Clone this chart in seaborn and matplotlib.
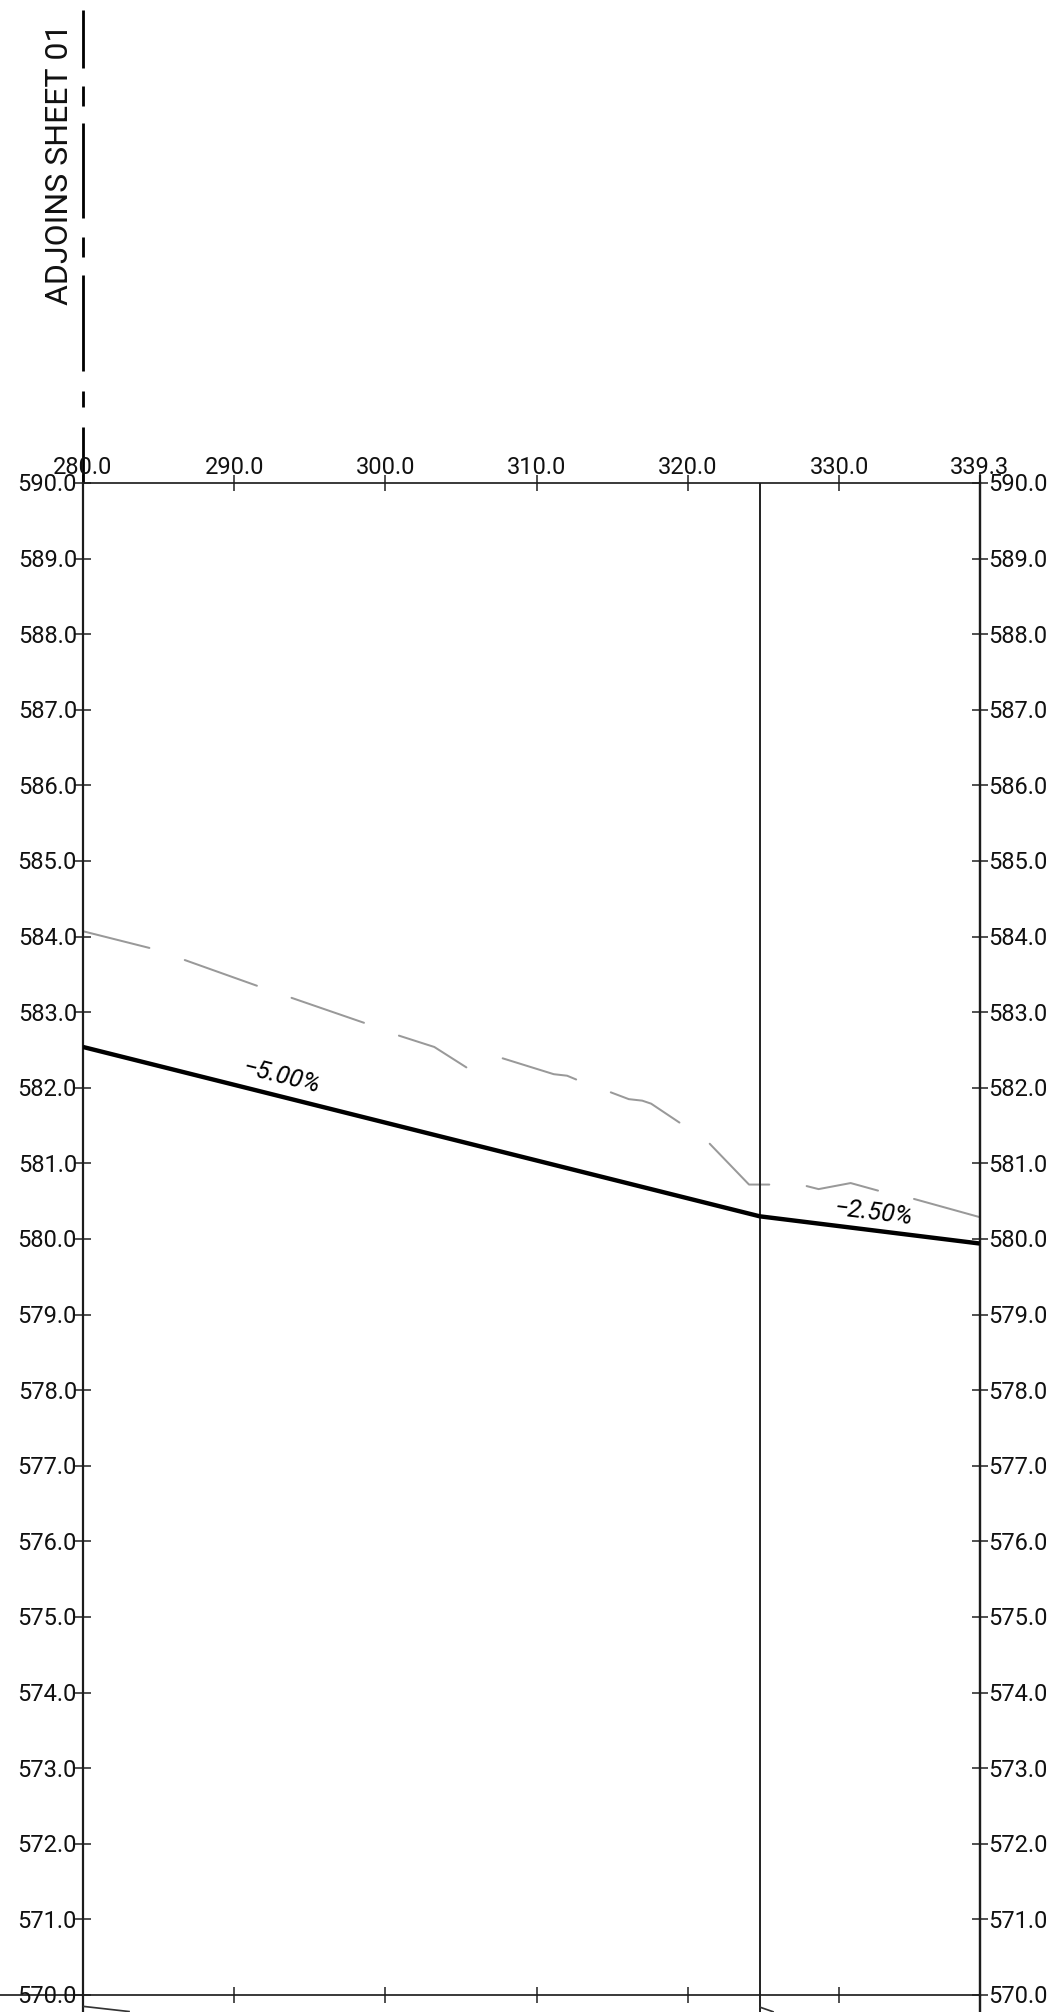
import matplotlib
matplotlib.use("Agg")
import matplotlib.pyplot as plt
import seaborn as sns
import pandas as pd
import numpy as np

# station / elevation ticks
x_ticks = [280.0, 290.0, 300.0, 310.0, 320.0, 330.0, 339.3]
y_ticks = [570.0 + i for i in range(21)]
grade_break = 324.75

# proposed grade (black)
grade_x = [280.0, 324.75, 339.3]
grade_y = [582.54, 580.30, 579.94]

# existing ground (grey dashed pieces)
ground_x = [
    [280.02, 284.39],
    [286.73, 291.50],
    [293.79, 298.58],
    [300.89, 303.23, 305.35],
    [307.75, 311.13, 312.01, 312.61],
    [314.90, 316.09, 316.98, 317.57, 319.44],
    [321.44, 324.04, 325.38],
    [327.85, 328.64, 330.76, 332.57],
    [334.95, 339.28],
]
ground_y = [
    [584.07, 583.85],
    [583.69, 583.35],
    [583.19, 582.86],
    [582.69, 582.54, 582.27],
    [582.39, 582.18, 582.16, 582.11],
    [581.94, 581.85, 581.83, 581.79, 581.54],
    [581.26, 580.72, 580.72],
    [580.70, 580.66, 580.74, 580.64],
    [580.53, 580.29],
]

# match line above the profile (elevation-unit pieces at station 280)
match_y = [
    [596.26, 595.49],
    [595.25, 594.99],
    [594.76, 593.51],
    [593.25, 592.99],
    [592.75, 591.48],
    [591.22, 591.00],
    [590.74, 590.00],
]

# next-sheet stubs below the frame
stub_x = [[280.0, 283.1], [324.75, 325.68]]
stub_y = [[569.85, 569.78], [569.84, 569.775]]

grade_labels = ["\u22125.00%", "\u22122.50%"]
grade_label_x = [293.17, 332.28]
grade_label_y = [582.14, 580.35]
grade_label_rot = [-14, -7]
match_label = "ADJOINS SHEET 01"

sns.set_theme(style="white")
plt.rcParams["font.family"] = ["Roboto", "DejaVu Sans"]

W, H = 1057, 2012
fig = plt.figure(figsize=(W / 100, H / 100), dpi=100, facecolor="white")
ax = fig.add_axes([83 / W, 1 - 1995 / H, 896.8 / W, 1512 / H])
ax.set_xlim(280.0, 339.3)
ax.set_ylim(570.0, 590.0)
ax.set_facecolor("white")

px = 0.72
DARK = "#1c1c1c"
for s, lw in [("top", 1.7), ("bottom", 1.7), ("left", 2.2), ("right", 2.4)]:
    ax.spines[s].set_visible(True)
    ax.spines[s].set_color(DARK)
    ax.spines[s].set_linewidth(lw * px)

for xs, ys in zip(ground_x, ground_y):
    sns.lineplot(x=xs, y=ys, ax=ax, color="#999999", lw=2.0 * px, sort=False,
                 estimator=None, zorder=2)

sns.lineplot(x=grade_x, y=grade_y, ax=ax, color="black", lw=4.4 * px, sort=False,
             estimator=None, zorder=4, solid_capstyle="butt")

ax.axvline(grade_break, color=DARK, lw=1.9 * px, zorder=3)

# extensions outside the frame
ymin_ext = 569.775
ax.plot([280, 280], [570, ymin_ext], color=DARK, lw=2.2 * px, clip_on=False)
ax.plot([339.3, 339.3], [570, ymin_ext], color=DARK, lw=2.4 * px, clip_on=False)
ax.plot([grade_break, grade_break], [570, ymin_ext], color=DARK, lw=1.9 * px, clip_on=False)
ax.plot([274.5, 280], [570, 570], color=DARK, lw=1.7 * px, clip_on=False)
ax.plot([339.3, 339.3], [590, 590.11], color=DARK, lw=2.2 * px, clip_on=False)
for xs, ys in zip(stub_x, stub_y):
    ax.plot(xs, ys, color="#333333", lw=1.7 * px, clip_on=False, solid_capstyle="butt")
for ys in match_y:
    ax.plot([280, 280], ys, color="black", lw=2.8 * px, clip_on=False, solid_capstyle="butt")

# ticks straddling the frame
ax.set_xticks(x_ticks)
ax.set_yticks(y_ticks)
ax.set_xticklabels([])
ax.set_yticklabels([])
ax.tick_params(axis="both", which="major", direction="inout", length=16 * px,
               width=1.5 * px, color=DARK, bottom=True, top=True, left=True, right=True)

FS = 17
for x in x_ticks:
    ax.annotate(f"{x:.1f}", (x, 590), xytext=(0, 4 * px), textcoords="offset points",
                ha="center", va="bottom", fontsize=FS, color="#111111")
for y in y_ticks:
    ax.annotate(f"{y:.1f}", (280, y), xytext=(-6 * px, -2 * px), textcoords="offset points",
                ha="right", va="center", fontsize=FS, color="#111111", annotation_clip=False)
    ax.annotate(f"{y:.1f}", (339.3, y), xytext=(8 * px, -2 * px), textcoords="offset points",
                ha="left", va="center", fontsize=FS, color="#111111", annotation_clip=False)

for t, x, y, r in zip(grade_labels, grade_label_x, grade_label_y, grade_label_rot):
    ax.text(x, y, t, rotation=r, rotation_mode="anchor", ha="center", va="center",
            fontsize=18, style="italic", color="black")

ax.annotate(match_label, (280, 594.22), xytext=(-23 * px, 0), textcoords="offset points",
            rotation=90, ha="center", va="center", fontsize=23, color="#111111",
            annotation_clip=False)

fig.savefig("out.png", dpi=100, facecolor="white")
